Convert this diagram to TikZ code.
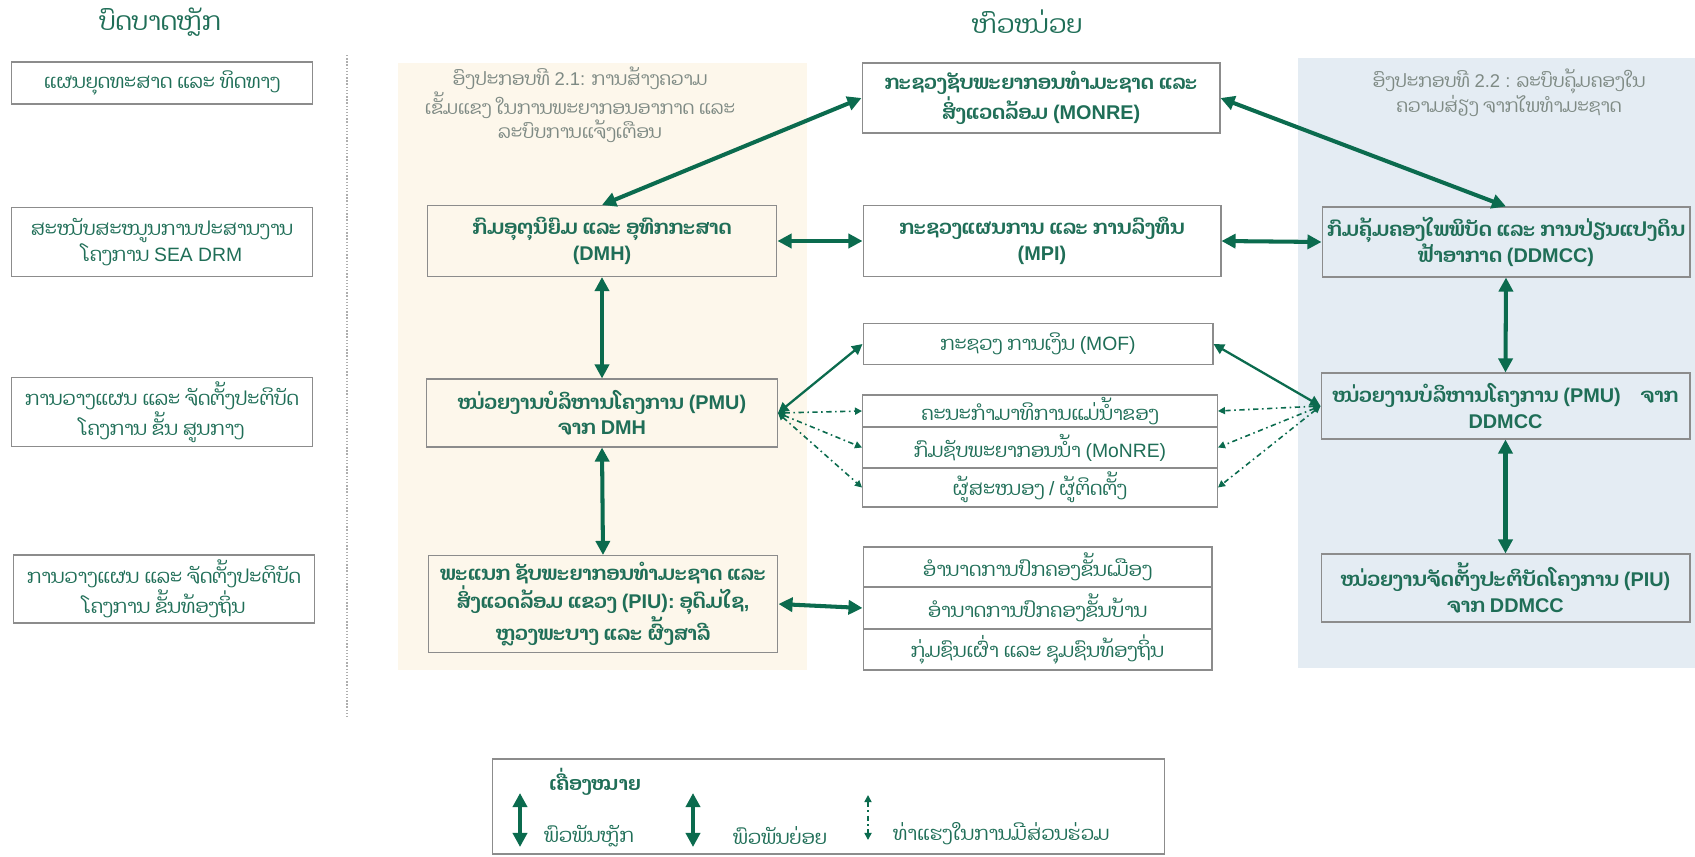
\documentclass[tikz,border=0pt]{standalone}
\usepackage{fontspec}
\setmainfont{Dhyana}[Script=Lao]
\newfontfamily\latinfont{Liberation Sans}
\newcommand{\en}[1]{{\latinfont #1}}
\usetikzlibrary{arrows.meta}

\definecolor{dgreen}{HTML}{0B6B4E}
\definecolor{tgreen}{HTML}{1F6E57}
\definecolor{capgray}{HTML}{7E8A84}
\definecolor{boxgray}{HTML}{8C8C8C}
\definecolor{beige}{HTML}{FDF7EB}
\definecolor{paleblue}{HTML}{E4ECF3}

\begin{document}
\begin{tikzpicture}[x=0.02cm,y=-0.02cm,
    lbl/.style={text=tgreen,align=center,font=\fontsize{11}{14}\selectfont},
    box/.style={lbl,draw=boxgray,line width=0.6pt,inner sep=1pt},
    mainarr/.style={draw=dgreen,line width=2.3pt,{Triangle[length=8pt,width=8pt]}-{Triangle[length=8pt,width=8pt]}},
    subarr/.style={draw=dgreen,line width=1.3pt,{Triangle[length=6pt,width=6pt]}-{Triangle[length=6pt,width=6pt]}},
    potarr/.style={draw=dgreen,line width=0.9pt,dash dot,{Triangle[length=4pt,width=4pt]}-{Triangle[length=4pt,width=4pt]}}]
    \useasboundingbox (0,0) rectangle (1695,856);
    % panels
    \fill[beige] (398,63) rectangle (807,670);
    \fill[paleblue] (1298,58) rectangle (1695,668);
    \draw[boxgray!70,densely dotted,line width=0.8pt] (347,55) -- (347,719);

    % headings
    \node[lbl,font=\fontsize{14.5}{18}\selectfont] (hrole) at (160,22) {ບົດບາດຫຼັກ};
    \node[lbl,font=\fontsize{14.5}{18}\selectfont] (hunit) at (1027,22) {ຫົວໜ່ວຍ};

    % roles
    \begin{scope}[every node/.style={box,minimum width=6.04cm}]
        \node[minimum height=0.84cm] (goal) at (162,83) {ແຜນຍຸດທະສາດ ແລະ ທິດທາງ};
        \node[minimum height=1.38cm] (supp) at (162,242) {ສະໜັບສະໜູນການປະສານງານ\\ໂຄງການ \en{SEA DRM}};
        \node[minimum height=1.38cm] (cent) at (162,412) {ການວາງແຜນ ແລະ ຈັດຕັ້ງປະຕິບັດ\\ໂຄງການ ຂັ້ນ ສູນກາງ};
        \node[minimum height=1.36cm] (locl) at (164,589) {ການວາງແຜນ ແລະ ຈັດຕັ້ງປະຕິບັດ\\ໂຄງການ ຂັ້ນທ້ອງຖິ່ນ};
    \end{scope}

    % captions
    \node[lbl,text=capgray,font=\fontsize{10.5}{12.5}\selectfont] (cap1) at (580,105) {ອົງປະກອບທີ \en{2.1:} ການສ້າງຄວາມ\\ເຂັ້ມແຂງ ໃນການພະຍາກອນອາກາດ ແລະ\\ລະບົບການແຈ້ງເຕືອນ};
    \node[lbl,text=capgray,font=\fontsize{10.5}{12.5}\selectfont] (cap2) at (1509,93) {ອົງປະກອບທີ \en{2.2 :} ລະບົບຄຸ້ມຄອງໃນ\\ຄວາມສ່ຽງ ຈາກໄພທຳມະຊາດ};

    % units
    \begin{scope}[every node/.style={box,font=\fontsize{11.3}{14.5}\selectfont\bfseries}]
        \node[minimum width=7.0cm,minimum height=1.42cm] (DMH) at (602,241) {ກົມອຸຕຸນິຍົມ ແລະ ອຸທົກກະສາດ\\\en{(DMH)}};
        \node[minimum width=7.02cm,minimum height=1.36cm] (PMUa) at (602,413) {ໜ່ວຍງານບໍລິຫານໂຄງການ \en{(PMU)}\\ຈາກ \en{DMH}};
        \node[minimum width=7.0cm,minimum height=1.94cm] (PIUa) at (603,604) {ພະແນກ ຊັບພະຍາກອນທຳມະຊາດ ແລະ\\ສິ່ງແວດລ້ອມ ແຂວງ \en{(PIU):} ອຸດົມໄຊ\en{,}\\ຫຼວງພະບາງ ແລະ ຜົ້ງສາລີ};
        \node[minimum width=7.16cm,minimum height=1.4cm] (MONRE) at (1041,98) {ກະຊວງຊັບພະຍາກອນທຳມະຊາດ ແລະ\\ສິ່ງແວດລ້ອມ \en{(MONRE)}};
        \node[minimum width=7.16cm,minimum height=1.42cm] (MPI) at (1042,241) {ກະຊວງແຜນການ ແລະ ການລົງທຶນ\\\en{(MPI)}};
        \node[minimum width=7.36cm,minimum height=1.4cm] (DDMCC) at (1506,242) {ກົມຄຸ້ມຄອງໄພພິບັດ ແລະ ການປ່ຽນແປງດິນ\\ຟ້າອາກາດ \en{(DDMCC)}};
        \node[minimum width=7.38cm,minimum height=1.32cm] (PMUb) at (1505.5,406) {ໜ່ວຍງານບໍລິຫານໂຄງການ \en{(PMU)}\quad ຈາກ\\\en{DDMCC}};
        \node[minimum width=7.38cm,minimum height=1.36cm] (PIUb) at (1505.5,588) {ໜ່ວຍງານຈັດຕັ້ງປະຕິບັດໂຄງການ \en{(PIU)}\\ຈາກ \en{DDMCC}};
    \end{scope}
    \begin{scope}[every node/.style={box}]
        \node[minimum width=7.0cm,minimum height=0.82cm] (MOF) at (1038,344) {ກະຊວງ ການເງິນ \en{(MOF)}};
        \node[minimum width=7.1cm,minimum height=0.64cm] (mrc) at (1040,411) {ຄະນະກຳມາທິການແມ່ນ້ຳຂອງ};
        \node[minimum width=7.1cm,minimum height=0.82cm] (dwr) at (1040,447.5) {ກົມຊັບພະຍາກອນນ້ຳ \en{(MoNRE)}};
        \node[minimum width=7.1cm,minimum height=0.78cm] (supl) at (1040,487.5) {ຜູ້ສະໜອງ \en{/} ຜູ້ຕິດຕັ້ງ};
        \node[minimum width=6.98cm,minimum height=0.8cm] (dist) at (1037.5,567) {ອຳນາດການປົກຄອງຂັ້ນເມືອງ};
        \node[minimum width=6.98cm,minimum height=0.84cm] (vill) at (1037.5,608) {ອຳນາດການປົກຄອງຂັ້ນບ້ານ};
        \node[minimum width=6.98cm,minimum height=0.82cm] (ethn) at (1037.5,649.5) {ກຸ່ມຊົນເຜົ່າ ແລະ ຊຸມຊົນທ້ອງຖິ່ນ};
    \end{scope}

    % links
    \begin{scope}[every edge/.style={mainarr}]
        \draw (DMH.north) edge (MONRE.west);
        \draw (MONRE.east) edge (DDMCC.north);
        \draw (DMH.east) edge (MPI.west);
        \draw (MPI.east) edge (DDMCC.west);
        \draw (DMH.south) edge (PMUa.north);
        \draw (PMUa.south) edge (PIUa.north);
        \draw (DDMCC.south) edge (PMUb.north);
        \draw (PMUb.south) edge (PIUb.north);
        \draw (PIUa.east) edge (vill.west);
    \end{scope}
    \begin{scope}[every edge/.style={subarr}]
        \draw (PMUa.east) edge (MOF.west);
        \draw (MOF.east) edge (PMUb.west);
    \end{scope}
    \begin{scope}[every edge/.style={potarr}]
        \draw (PMUa.east) edge (mrc.west);
        \draw (PMUa.east) edge (dwr.west);
        \draw (PMUa.east) edge (supl.west);
        \draw (PMUb.west) edge (mrc.east);
        \draw (PMUb.west) edge (dwr.east);
        \draw (PMUb.west) edge (supl.east);
    \end{scope}

    % legend
    \node[box,minimum width=13.46cm,minimum height=1.9cm] (legend) at (828.5,806.5) {};
    \node[lbl,font=\fontsize{11}{14}\selectfont\bfseries] (keyttl) at (595,782) {ເຄື່ອງໝາຍ};
    \coordinate (k1t) at (520,793);
    \coordinate (k1b) at (520,847);
    \coordinate (k2t) at (693,793);
    \coordinate (k2b) at (693,847);
    \coordinate (k3t) at (868,795);
    \coordinate (k3b) at (868,840);
    \draw[mainarr] (k1t) -- (k1b);
    \draw[mainarr] (k2t) -- (k2b);
    \draw[potarr] (k3t) -- (k3b);
    \node[lbl,anchor=west] (k1txt) at (538,836) {ພົວພັນຫຼັກ};
    \node[lbl,anchor=west] (k2txt) at (727,836) {ພົວພັນຍ່ອຍ};
    \node[lbl,anchor=west] (k3txt) at (887,834) {ທ່າແຮງໃນການມີສ່ວນຮ່ວມ};
\end{tikzpicture}
\end{document}
